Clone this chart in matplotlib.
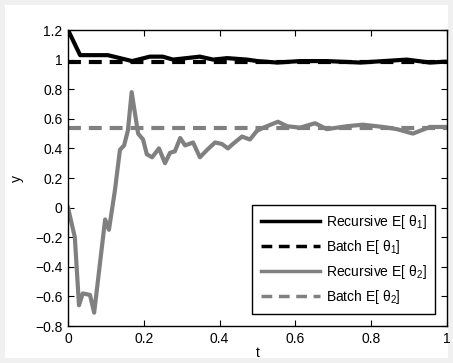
import numpy as np
import matplotlib.pyplot as plt
from matplotlib.patches import Rectangle

plt.rcParams['font.family'] = ['Liberation Sans', 'DejaVu Sans']
plt.rcParams['mathtext.fontset'] = 'custom'
plt.rcParams['mathtext.rm'] = 'Liberation Sans'

# recursive estimate of theta_1
t_rec1 = [0, 0.032, 0.105, 0.169, 0.216, 0.25, 0.277, 0.348, 0.383, 0.42, 0.472,
          0.5, 0.552, 0.612, 0.683, 0.771, 0.894, 0.955, 0.989, 1.0]
rec1 = [1.2, 1.03, 1.03, 0.99, 1.02, 1.02, 1.0, 1.02, 1.0, 1.01, 1.0,
        0.99, 0.98, 0.99, 0.99, 0.98, 1.0, 0.98, 0.985, 0.985]

# recursive estimate of theta_2
t_rec2 = [0, 0.018, 0.029, 0.039, 0.058, 0.069, 0.098, 0.108, 0.124, 0.137, 0.148,
          0.158, 0.168, 0.185, 0.198, 0.208, 0.222, 0.240, 0.256, 0.269, 0.282,
          0.296, 0.309, 0.330, 0.348, 0.367, 0.388, 0.406, 0.422, 0.435, 0.459,
          0.480, 0.499, 0.520, 0.554, 0.578, 0.612, 0.652, 0.683, 0.736, 0.778,
          0.831, 0.868, 0.910, 0.955, 0.989, 1.0]
rec2 = [0.0, -0.2, -0.66, -0.58, -0.59, -0.71, -0.08, -0.15, 0.12, 0.39, 0.42,
        0.52, 0.78, 0.50, 0.46, 0.36, 0.34, 0.40, 0.30, 0.37, 0.38,
        0.47, 0.42, 0.44, 0.34, 0.39, 0.44, 0.43, 0.40, 0.43, 0.48,
        0.46, 0.52, 0.545, 0.58, 0.55, 0.54, 0.57, 0.53, 0.55, 0.56,
        0.545, 0.53, 0.50, 0.545, 0.545, 0.545]

batch1 = 0.985
batch2 = 0.54

labels = ['Recursive E[ θ$_1$]', 'Batch E[ θ$_1$]',
          'Recursive E[ θ$_2$]', 'Batch E[ θ$_2$]']


def fmt(v, p):
    v = round(v, 1)
    if v == 0:
        return '0'
    return f'{v:g}'.replace('-', '\u2212')


fig = plt.figure(figsize=(4.53, 3.63), dpi=100, facecolor='#f0f0f0')
fig.patches.append(Rectangle((5/453, 5/363), 443/453, 353/363,
                             transform=fig.transFigure, facecolor='white',
                             edgecolor='none', zorder=-1))
ax = fig.add_axes([68/453, 1-326/363, 379/453, 296/363])

dash = (0, (3.1, 1.9))
ax.plot(t_rec1, rec1, color='black', lw=3, label=labels[0])
ax.plot([0, 1], [batch1, batch1], color='black', lw=3, ls=dash, label=labels[1])
ax.plot(t_rec2, rec2, color='#808080', lw=3, label=labels[2])
ax.plot([0, 1], [batch2, batch2], color='#808080', lw=3, ls=dash, label=labels[3])

ax.set_xlim(0, 1)
ax.set_ylim(-0.8, 1.2)
ax.set_xticks(np.arange(0, 1.01, 0.2))
ax.set_yticks(np.arange(-0.8, 1.21, 0.2))
ax.xaxis.set_major_formatter(plt.FuncFormatter(fmt))
ax.yaxis.set_major_formatter(plt.FuncFormatter(fmt))
ax.tick_params(direction='in', top=True, right=True, labelsize=10, length=4,
               width=0.8, pad=4)
for s in ax.spines.values():
    s.set_linewidth(1.0)
ax.set_xlabel('t', fontsize=10, labelpad=0)
ax.set_ylabel('y', fontsize=10, labelpad=8)

leg = ax.legend(loc='lower right', fontsize=10, fancybox=False, edgecolor='black',
                framealpha=1, handlelength=4.3, handletextpad=0.4,
                borderaxespad=0.85, labelspacing=0.5, borderpad=0.6)
leg.get_frame().set_linewidth(1.0)
for ln in leg.get_lines():
    ln.set_linewidth(2.5)

fig.savefig('out.png', dpi=100, facecolor=fig.get_facecolor())
